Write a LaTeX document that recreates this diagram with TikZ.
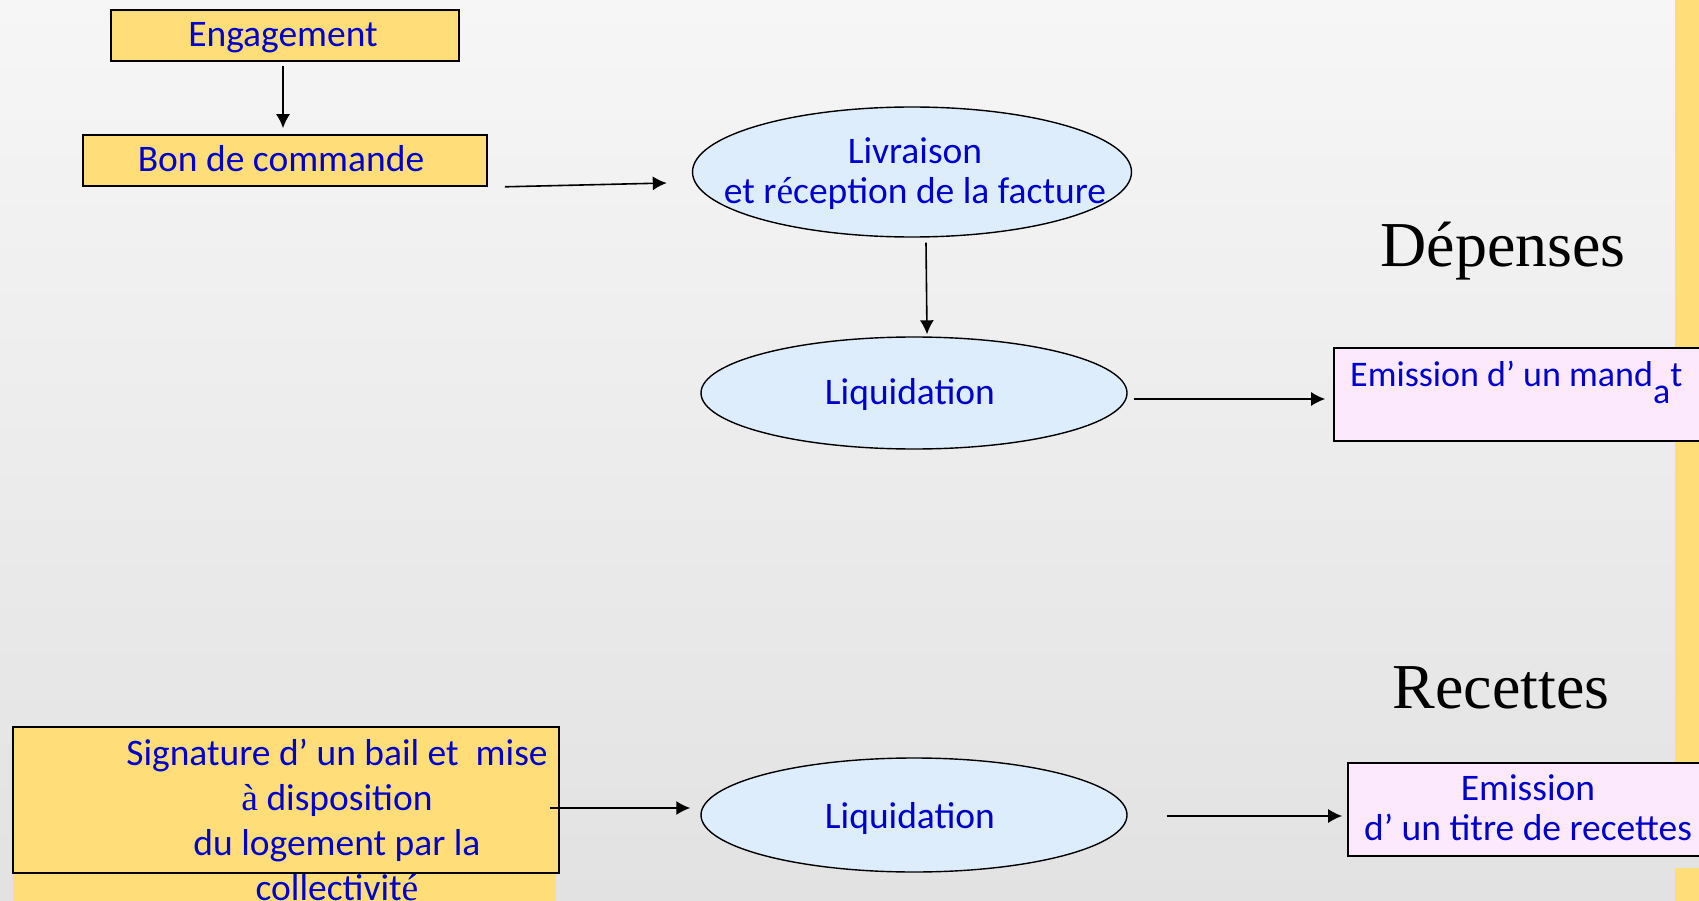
\documentclass[tikz,border=0pt]{standalone}
\usepackage{fontspec}
\setmainfont{Carlito}
\newfontfamily\timesfont{Liberation Serif}
\usetikzlibrary{shapes.geometric,arrows.meta,calc}
\definecolor{bgtop}{RGB}{246,246,246}
\definecolor{bgbot}{RGB}{226,226,226}
\definecolor{boxyellow}{RGB}{255,222,122}
\definecolor{ellblue}{RGB}{221,237,252}
\definecolor{boxpink}{RGB}{253,233,253}
\definecolor{txtblue}{RGB}{0,0,204}
\tikzset{
  ybox/.style={draw=black, line width=1.6pt, fill=boxyellow, inner sep=0pt},
  pbox/.style={draw=black, line width=1.6pt, fill=boxpink, inner sep=0pt},
  ell/.style={ellipse, draw=black, line width=1.4pt, fill=ellblue, inner sep=0pt},
  txt/.style={text=txtblue, font=\fontsize{37.5}{40}\selectfont, align=center, inner sep=0pt},
  big/.style={font=\timesfont\fontsize{64}{70}\selectfont, inner sep=0pt},
  arr/.style={-{Latex[length=14pt,width=14pt]}, line width=1.6pt}
}
\newcommand{\acc}[1]{{\timesfont #1}}

\begin{document}
\begin{tikzpicture}[x=1pt,y=-1pt]
  \shade[top color=bgtop, bottom color=bgbot] (0,0) rectangle (1699,901);
  \useasboundingbox (0,0) rectangle (1699,901);
  \fill[boxyellow] (1675,0) rectangle (1699,763);
  \fill[boxyellow] (1675,868) rectangle (1699,901);
  \fill[boxyellow] (13,860) rectangle (556,901);

  % Depenses
  \node[ybox, minimum width=348pt, minimum height=51pt] (eng) at (285,35.5) {};
  \node[txt, anchor=base] (engtxt) at (283,47) {Engagement};
  \node[ybox, minimum width=404pt, minimum height=51pt] (bon) at (285,160.5) {};
  \node[txt, anchor=base] (bontxt) at (281,172) {Bon de commande};
  \node[ell, minimum width=439pt, minimum height=130pt] (liv) at (912,172) {};
  \node[txt] (livtxt) at (915,174) {Livraison\\et r\acc{é}ception de la facture};
  \node[ell, minimum width=426pt, minimum height=112pt] (liq1) at (914,393) {};
  \node[txt] (liq1txt) at (910,394.5) {Liquidation};
  \node[pbox, minimum width=372pt, minimum height=93pt] (man) at (1520,394.5) {};
  \node[txt, font=\fontsize{36}{40}\selectfont, anchor=base west] (mantxt) at (1350,386)
    {Emission d’ un mand\raisebox{-17pt}{a}t};
  \node[big] (dep) at (1503,251) {Dépenses};

  \draw[arr] ($(eng.south)+(-2,4)$) -- ($(bon.north)+(-2,-6)$);
  \draw[arr] ($(bon.south east)+(17,0)$) -- ($(liv.west)+(-25,11)$);
  \draw[arr] ($(liv.south)+(14,5)$) -- ($(liq1.north)+(13,-2)$);
  \draw[arr] ($(liq1.east)+(6,6)$) -- ($(man.west)+(-8,4.5)$);

  % Recettes
  \node[ybox, minimum width=546pt, minimum height=146pt] (sig) at (286,800) {};
  \node[txt, font=\fontsize{37.5}{45}\selectfont] (sigtxt) at (337,820)
    {Signature d’ un bail et ~mise\\\acc{à} disposition\\du logement par la\\collectivit\acc{é}};
  \node[ell, minimum width=426pt, minimum height=114pt] (liq2) at (914,815) {};
  \node[txt] (liq2txt) at (910,818) {Liquidation};
  \node[pbox, minimum width=360pt, minimum height=93pt] (tit) at (1528,809.5) {};
  \node[txt] (tittxt) at (1528,808) {Emission\\d’ un titre de recettes};
  \node[big] (rec) at (1501,688) {Recettes};

  \draw[arr] ($(sig.east)+(-10,8)$) -- ($(liq2.west)+(-10,-7)$);
  \draw[arr] ($(liq2.east)+(39,1)$) -- ($(tit.west)+(-5,6.5)$);
\end{tikzpicture}
\end{document}
